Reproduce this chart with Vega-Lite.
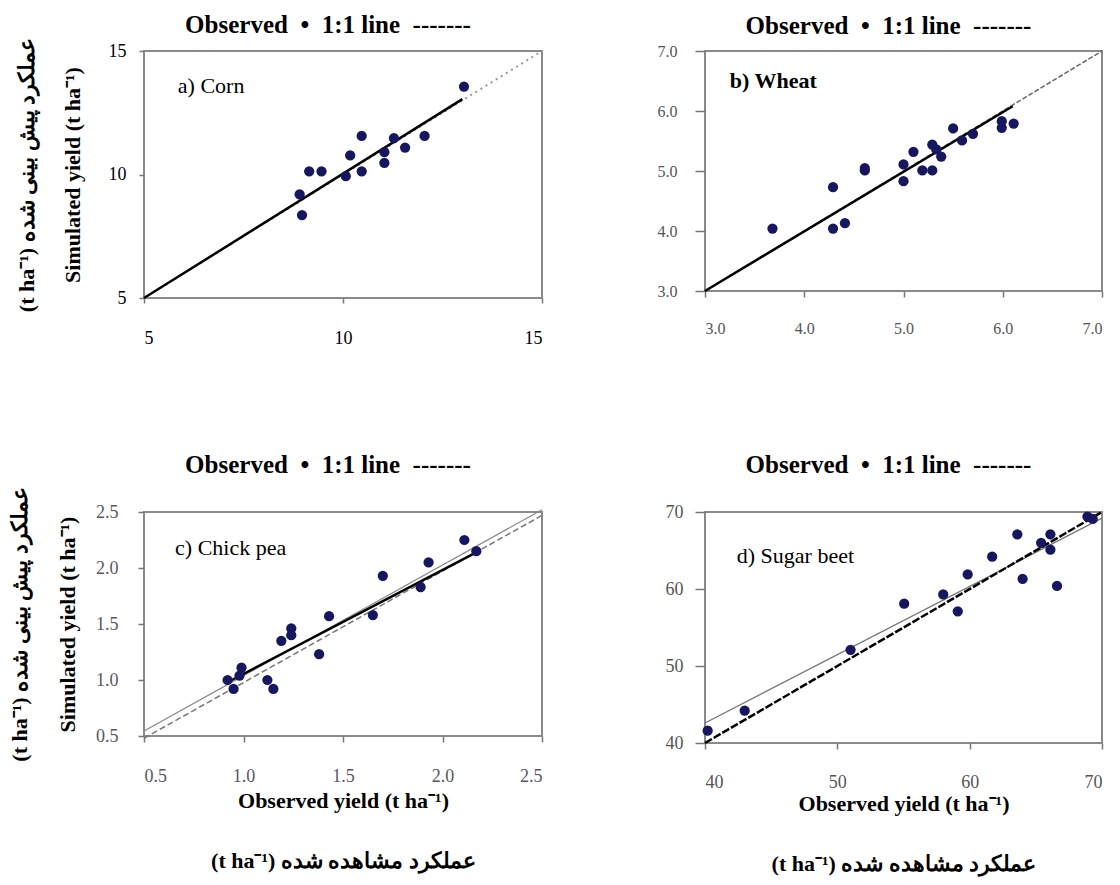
{
  "$schema": "https://vega.github.io/schema/vega-lite/v6.json",
  "padding": {"left": 7, "top": 12, "right": 5, "bottom": 5},
  "background": "white",
  "bounds": "flush",
  "columns": 2,
  "spacing": {"row": 214, "column": 163},
  "config": {
    "font": "Liberation Serif",
    "view": {"stroke": "#8a8a8a", "strokeWidth": 2},
    "axis": {"grid": false, "domain": false, "tickColor": "#777", "tickWidth": 1.5, "titleColor": "black", "titleFont": "Liberation Serif", "titleFontWeight": "bold", "titleFontSize": 22},
    "title": {"font": "Liberation Serif", "fontSize": 25, "fontWeight": "bold", "color": "black", "anchor": "middle", "offset": -1, "dx": -15}
  },
  "datasets": {
    "ptsA": [
      {"x": 13.04, "y": 13.56}, {"x": 10.47, "y": 11.56}, {"x": 11.28, "y": 11.47}, {"x": 12.05, "y": 11.56},
      {"x": 11.56, "y": 11.09}, {"x": 10.18, "y": 10.77}, {"x": 11.04, "y": 10.91}, {"x": 11.04, "y": 10.47},
      {"x": 10.47, "y": 10.13}, {"x": 10.07, "y": 9.93}, {"x": 9.15, "y": 10.13}, {"x": 9.46, "y": 10.13},
      {"x": 8.91, "y": 9.2}, {"x": 8.97, "y": 8.36}
    ],
    "oneA": [{"x": 5, "y": 5}, {"x": 15, "y": 15}],
    "fitA": [{"x": 5, "y": 5}, {"x": 13.0, "y": 13.05}],
    "ptsB": [
      {"x": 3.68, "y": 4.04}, {"x": 4.29, "y": 4.73}, {"x": 4.29, "y": 4.04}, {"x": 4.41, "y": 4.13},
      {"x": 4.61, "y": 5.01}, {"x": 4.61, "y": 5.05}, {"x": 5.0, "y": 5.11}, {"x": 5.0, "y": 4.83},
      {"x": 5.1, "y": 5.32}, {"x": 5.19, "y": 5.01}, {"x": 5.29, "y": 5.44}, {"x": 5.29, "y": 5.01},
      {"x": 5.38, "y": 5.24}, {"x": 5.33, "y": 5.36}, {"x": 5.5, "y": 5.71}, {"x": 5.59, "y": 5.51},
      {"x": 5.7, "y": 5.62}, {"x": 5.99, "y": 5.72}, {"x": 5.99, "y": 5.83}, {"x": 6.11, "y": 5.79}
    ],
    "oneB": [{"x": 3, "y": 3}, {"x": 7, "y": 7}],
    "fitB": [{"x": 3, "y": 3}, {"x": 6.1, "y": 6.08}],
    "ptsC": [
      {"x": 0.92, "y": 1.0}, {"x": 0.95, "y": 0.92}, {"x": 0.99, "y": 1.11}, {"x": 0.98, "y": 1.04},
      {"x": 1.12, "y": 1.0}, {"x": 1.15, "y": 0.92}, {"x": 1.19, "y": 1.35}, {"x": 1.24, "y": 1.46},
      {"x": 1.24, "y": 1.4}, {"x": 1.38, "y": 1.23}, {"x": 1.43, "y": 1.57}, {"x": 1.65, "y": 1.58},
      {"x": 1.7, "y": 1.93}, {"x": 1.89, "y": 1.83}, {"x": 1.93, "y": 2.05}, {"x": 2.11, "y": 2.25},
      {"x": 2.17, "y": 2.15}
    ],
    "oneC": [{"x": 0.5, "y": 0.48}, {"x": 2.5, "y": 2.47}],
    "regC": [{"x": 0.5, "y": 0.545}, {"x": 2.5, "y": 2.52}],
    "fitC": [{"x": 0.92, "y": 0.98}, {"x": 2.16, "y": 2.13}],
    "ptsD": [
      {"x": 40.2, "y": 41.6}, {"x": 43.0, "y": 44.2}, {"x": 51.0, "y": 52.1}, {"x": 55.05, "y": 58.1},
      {"x": 58.0, "y": 59.3}, {"x": 59.1, "y": 57.1}, {"x": 59.85, "y": 61.9}, {"x": 61.7, "y": 64.2},
      {"x": 63.6, "y": 67.1}, {"x": 64.0, "y": 61.3}, {"x": 65.4, "y": 66.0}, {"x": 66.1, "y": 67.1},
      {"x": 66.1, "y": 65.1}, {"x": 66.6, "y": 60.4}, {"x": 68.9, "y": 69.4}, {"x": 69.3, "y": 69.1}
    ],
    "oneD": [{"x": 40, "y": 40}, {"x": 70, "y": 70}],
    "regD": [{"x": 40, "y": 42.6}, {"x": 70, "y": 69.2}]
  },
  "concat": [
    {
      "width": 398, "height": 247,
      "title": {"text": "Observed\u00a0\u00a0•\u00a0\u00a01:1 line\u00a0\u00a0-------", "dy": 0},
      "encoding": {
        "x": {"field": "x", "type": "quantitative", "scale": {"domain": [5, 15], "nice": false, "zero": false},
              "axis": {"values": [5, 10, 15], "title": null, "labelFont": "Liberation Serif", "labelFontSize": 18, "labelColor": "black", "tickSize": 5, "labelPadding": 26}},
        "y": {"field": "y", "type": "quantitative", "scale": {"domain": [5, 15], "nice": false, "zero": false},
              "axis": {"values": [5, 10, 15], "labelFont": "Liberation Serif", "labelFontSize": 18, "labelColor": "black", "tickSize": 5, "labelPadding": 13,
                       "title": ["(t ha⁻¹) عملکرد پیش بینی شده", "Simulated yield (t ha⁻¹)"], "titleLineHeight": 46, "titlePadding": 24}}
      },
      "layer": [
        {"data": {"name": "oneA"}, "mark": {"type": "line", "color": "#999", "strokeWidth": 2, "strokeDash": [2, 4]}},
        {"data": {"name": "fitA"}, "mark": {"type": "line", "color": "black", "strokeWidth": 2.5}},
        {"data": {"name": "ptsA"}, "mark": {"type": "circle", "size": 105, "color": "#17175f", "opacity": 1}},
        {"data": {"values": [{"x": 5.85, "y": 13.58, "label": "a) Corn"}]}, "mark": {"type": "text", "align": "left", "baseline": "middle", "font": "Liberation Serif", "fontSize": 22}, "encoding": {"text": {"field": "label"}}}
      ]
    },
    {
      "width": 397, "height": 240,
      "title": {"text": "Observed\u00a0\u00a0•\u00a0\u00a01:1 line\u00a0\u00a0-------", "dy": -5},
      "encoding": {
        "x": {"field": "x", "type": "quantitative", "scale": {"domain": [3, 7], "nice": false, "zero": false},
              "axis": {"values": [3, 4, 5, 6, 7], "format": ".1f", "title": null, "labelFont": "Liberation Sans Narrow", "labelFontSize": 16, "labelColor": "#555", "tickSize": 6, "labelPadding": 23}},
        "y": {"field": "y", "type": "quantitative", "scale": {"domain": [3, 7], "nice": false, "zero": false},
              "axis": {"values": [3, 4, 5, 6, 7], "format": ".1f", "title": null, "labelFont": "Liberation Sans Narrow", "labelFontSize": 16, "labelColor": "#555", "tickSize": 10, "labelPadding": 18}}
      },
      "layer": [
        {"data": {"name": "oneB"}, "mark": {"type": "line", "color": "#666", "strokeWidth": 1.5, "strokeDash": [5, 2]}},
        {"data": {"name": "fitB"}, "mark": {"type": "line", "color": "black", "strokeWidth": 2.5}},
        {"data": {"name": "ptsB"}, "mark": {"type": "circle", "size": 105, "color": "#17175f", "opacity": 1}},
        {"data": {"values": [{"x": 3.25, "y": 6.5, "label": "b) Wheat"}]}, "mark": {"type": "text", "align": "left", "baseline": "middle", "font": "Liberation Serif", "fontSize": 22, "fontWeight": "bold"}, "encoding": {"text": {"field": "label"}}}
      ]
    },
    {
      "width": 398, "height": 224,
      "title": {"text": "Observed\u00a0\u00a0•\u00a0\u00a01:1 line\u00a0\u00a0-------", "dy": -10},
      "encoding": {
        "x": {"field": "x", "type": "quantitative", "scale": {"domain": [0.5, 2.5], "nice": false, "zero": false},
              "axis": {"values": [0.5, 1, 1.5, 2, 2.5], "format": ".1f", "labelFont": "Liberation Serif", "labelFontSize": 18, "labelColor": "#5a5563", "tickSize": 6, "labelPadding": 25,
                       "title": ["Observed yield (t ha⁻¹)", "(t ha⁻¹) عملکرد مشاهده شده"], "titleLineHeight": 60, "titlePadding": 5}},
        "y": {"field": "y", "type": "quantitative", "scale": {"domain": [0.5, 2.5], "nice": false, "zero": false},
              "axis": {"values": [0.5, 1, 1.5, 2, 2.5], "format": ".1f", "labelFont": "Liberation Serif", "labelFontSize": 18, "labelColor": "#5a5563", "tickSize": 6, "labelPadding": 20,
                       "title": ["(t ha⁻¹) عملکرد پیش بینی شده", "Simulated yield (t ha⁻¹)"], "titleLineHeight": 48, "titlePadding": 16}}
      },
      "layer": [
        {"data": {"name": "oneC"}, "mark": {"type": "line", "color": "#777", "strokeWidth": 1.5, "strokeDash": [6, 3]}},
        {"data": {"name": "regC"}, "mark": {"type": "line", "color": "#888", "strokeWidth": 1.2}},
        {"data": {"name": "fitC"}, "mark": {"type": "line", "color": "black", "strokeWidth": 2.5}},
        {"data": {"name": "ptsC"}, "mark": {"type": "circle", "size": 105, "color": "#17175f", "opacity": 1}},
        {"data": {"values": [{"x": 0.656, "y": 2.18, "label": "c) Chick pea"}]}, "mark": {"type": "text", "align": "left", "baseline": "middle", "font": "Liberation Serif", "fontSize": 22}, "encoding": {"text": {"field": "label"}}}
      ]
    },
    {
      "width": 397, "height": 231,
      "title": {"text": "Observed\u00a0\u00a0•\u00a0\u00a01:1 line\u00a0\u00a0-------", "dy": -26},
      "encoding": {
        "x": {"field": "x", "type": "quantitative", "scale": {"domain": [40, 70], "nice": false, "zero": false},
              "axis": {"values": [40, 50, 60, 70], "labelFont": "Liberation Sans Narrow", "labelFontSize": 18, "labelColor": "#555", "tickSize": 6, "labelPadding": 24,
                       "title": ["Observed yield (t ha⁻¹)", "(t ha⁻¹) عملکرد مشاهده شده"], "titleLineHeight": 60, "titlePadding": 2}},
        "y": {"field": "y", "type": "quantitative", "scale": {"domain": [40, 70], "nice": false, "zero": false},
              "axis": {"values": [40, 50, 60, 70], "title": null, "labelFont": "Liberation Sans Narrow", "labelFontSize": 18, "labelColor": "#555", "tickSize": 10, "labelPadding": 12}}
      },
      "layer": [
        {"data": {"name": "regD"}, "mark": {"type": "line", "color": "#777", "strokeWidth": 1.3}},
        {"data": {"name": "oneD"}, "mark": {"type": "line", "color": "black", "strokeWidth": 2.5, "strokeDash": [8, 2]}},
        {"data": {"name": "ptsD"}, "mark": {"type": "circle", "size": 105, "color": "#17175f", "opacity": 1}},
        {"data": {"values": [{"x": 42.4, "y": 64.3, "label": "d) Sugar beet"}]}, "mark": {"type": "text", "align": "left", "baseline": "middle", "font": "Liberation Serif", "fontSize": 22}, "encoding": {"text": {"field": "label"}}}
      ]
    }
  ]
}
